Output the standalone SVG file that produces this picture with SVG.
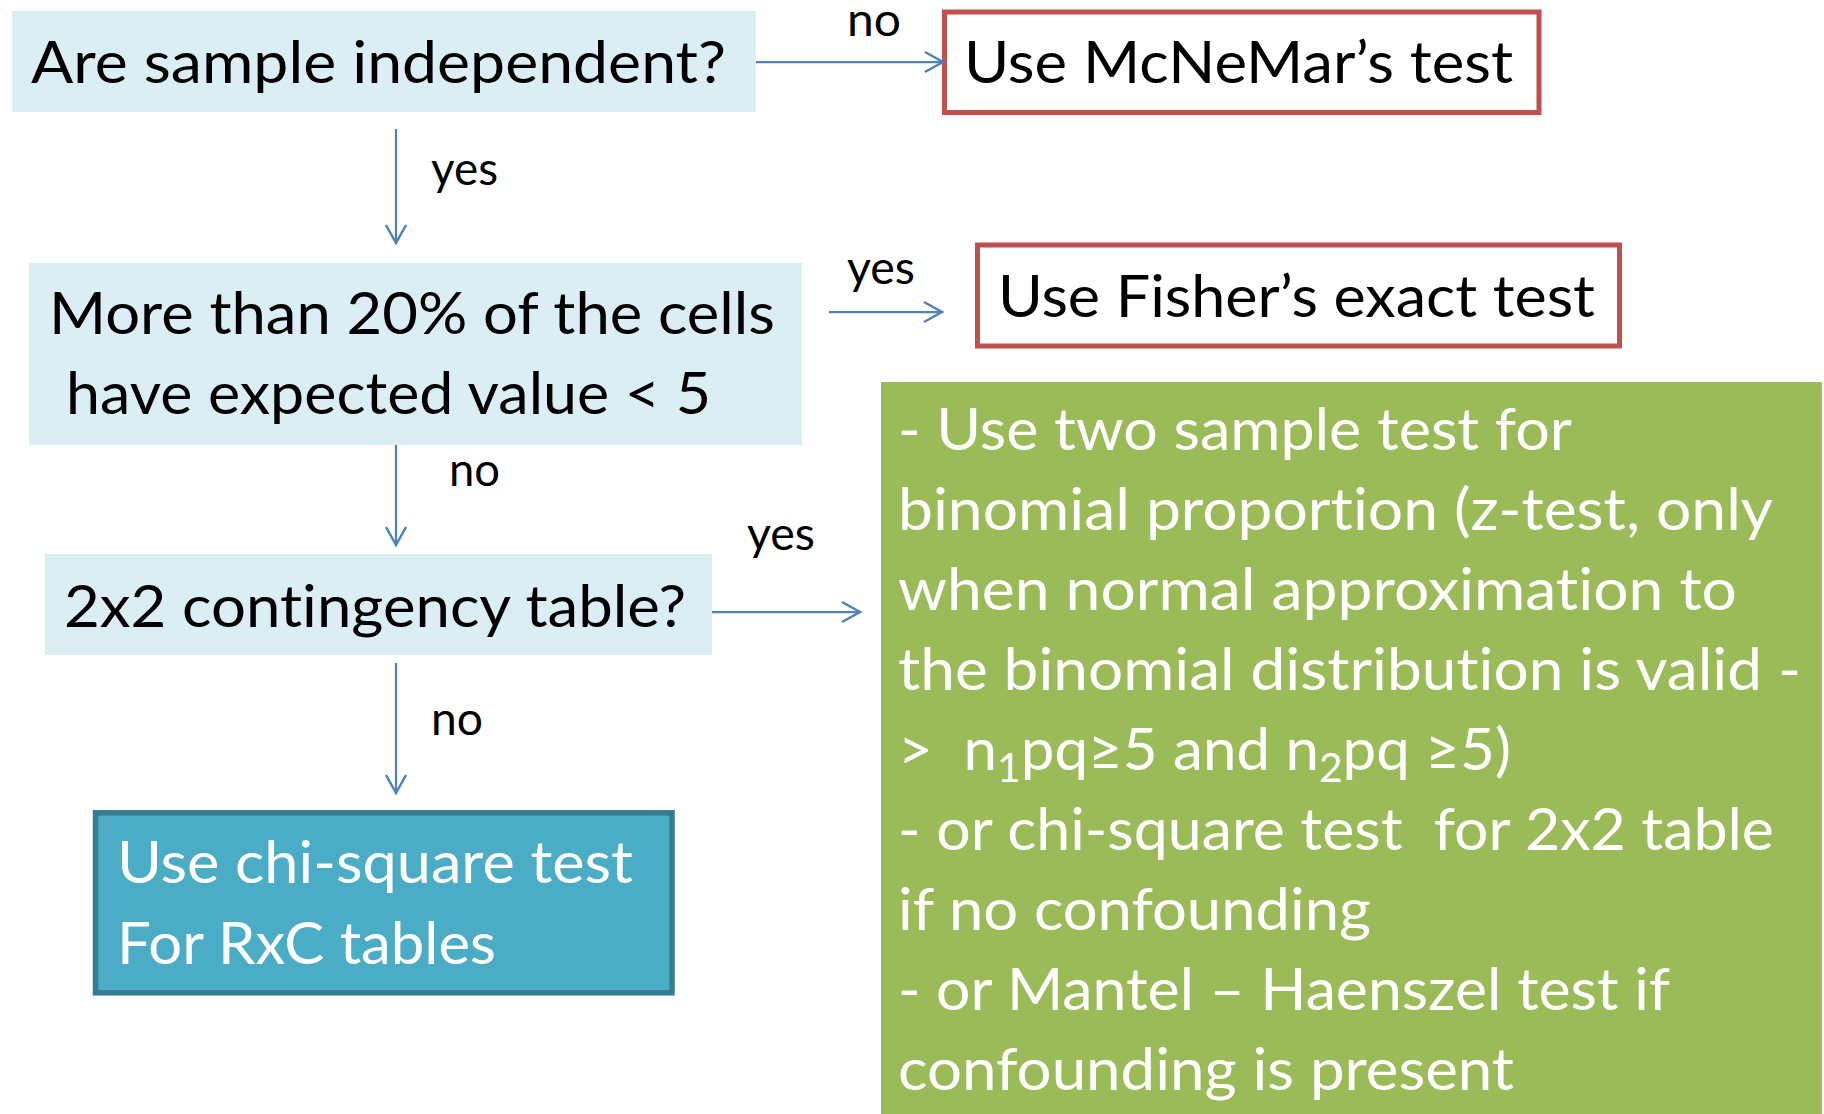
<svg xmlns="http://www.w3.org/2000/svg" width="1824" height="1114" viewBox="0 0 1824 1114">
  <style>
    text { font-family: "Lato", "Liberation Sans", sans-serif; font-variant-ligatures: none; font-feature-settings: "liga" 0, "clig" 0, "dlig" 0; }
    .big { font-size: 59px; }
    .lbl { font-size: 46px; fill: #000000; }
    .dark { fill: #000000; }
    .light { fill: #FFFFFF; }
    .question { fill: #DBEEF4; }
    .result { fill: #FFFFFF; stroke: #C0504D; stroke-width: 5; }
    .chi { fill: #4BACC6; stroke: #357D91; stroke-width: 5.5; }
    .green { fill: #9BBB59; }
    .edge { fill: none; stroke: #4F81BD; stroke-width: 2.25; marker-end: url(#arr); }
  </style>
  <defs>
    <marker id="arr" markerUnits="userSpaceOnUse" viewBox="0 0 24 24" markerWidth="24" markerHeight="24" refX="20" refY="12" orient="auto">
      <path d="M2,2 L20,12 L2,22" fill="none" stroke="#4F81BD" stroke-width="2.5"/>
    </marker>
  </defs>

  <rect width="1824" height="1114" fill="#FFFFFF"/>

  <!-- decision: independence -->
  <g id="q-independent">
    <rect class="question" x="12" y="11" width="744" height="101"/>
    <text class="big dark" x="31" y="83" textLength="695" lengthAdjust="spacingAndGlyphs">Are sample independent?</text>
  </g>

  <!-- outcome: McNemar -->
  <g id="r-mcnemar">
    <rect class="result" x="944.5" y="12" width="594.5" height="100.5"/>
    <text class="big dark" x="964" y="83" textLength="549" lengthAdjust="spacingAndGlyphs">Use McNeMar’s test</text>
  </g>

  <!-- decision: expected cell counts -->
  <g id="q-expected">
    <rect class="question" x="29" y="263" width="773" height="182"/>
    <text class="big dark" x="49" y="334" textLength="726" lengthAdjust="spacingAndGlyphs">More than 20% of the cells</text>
    <text class="big dark" x="66" y="414" textLength="645" lengthAdjust="spacingAndGlyphs">have expected value &lt; 5</text>
  </g>

  <!-- outcome: Fisher -->
  <g id="r-fisher">
    <rect class="result" x="977.5" y="245" width="642" height="101"/>
    <text class="big dark" x="998" y="316.5" textLength="597" lengthAdjust="spacingAndGlyphs">Use Fisher’s exact test</text>
  </g>

  <!-- decision: 2x2 table -->
  <g id="q-2x2">
    <rect class="question" x="45" y="554" width="667" height="101"/>
    <text class="big dark" x="64" y="627" textLength="622" lengthAdjust="spacingAndGlyphs">2x2 contingency table?</text>
  </g>

  <!-- outcome: chi-square RxC -->
  <g id="r-chisquare">
    <rect class="chi" x="95.5" y="812.8" width="576.5" height="180"/>
    <text class="big light" x="117" y="883" textLength="516" lengthAdjust="spacingAndGlyphs">Use chi-square test</text>
    <text class="big light" x="117" y="964" textLength="379" lengthAdjust="spacingAndGlyphs">For RxC tables</text>
  </g>

  <!-- outcome: 2x2 options -->
  <g id="r-2x2-options">
    <rect class="green" x="881" y="382" width="941" height="732"/>
    <text class="big light" x="898" y="450" textLength="674" lengthAdjust="spacingAndGlyphs">- Use two sample test for</text>
    <text class="big light" x="898" y="530" textLength="875" lengthAdjust="spacingAndGlyphs">binomial proportion (z-test, only</text>
    <text class="big light" x="898" y="610" textLength="839" lengthAdjust="spacingAndGlyphs">when normal approximation to</text>
    <text class="big light" x="898" y="690" textLength="903" lengthAdjust="spacingAndGlyphs">the binomial distribution is valid -</text>
    <text class="big light" x="898" y="770" xml:space="preserve" textLength="613" lengthAdjust="spacingAndGlyphs">&gt;  n<tspan font-size="40" dy="12">1</tspan><tspan dy="-12">pq≥5 and n</tspan><tspan font-size="40" dy="12">2</tspan><tspan dy="-12">pq ≥5)</tspan></text>
    <text class="big light" x="898" y="850" xml:space="preserve" textLength="876" lengthAdjust="spacingAndGlyphs">- or chi-square test  for 2x2 table</text>
    <text class="big light" x="898" y="930" textLength="473" lengthAdjust="spacingAndGlyphs">if no confounding</text>
    <text class="big light" x="898" y="1010" textLength="772" lengthAdjust="spacingAndGlyphs">- or Mantel – Haenszel test if</text>
    <text class="big light" x="898" y="1090" textLength="616" lengthAdjust="spacingAndGlyphs">confounding is present</text>
  </g>

  <!-- connectors -->
  <g id="connectors">
    <line class="edge" x1="756" y1="62" x2="943" y2="62"/>
    <line class="edge" x1="396" y1="129" x2="396" y2="243"/>
    <line class="edge" x1="829" y1="312" x2="942" y2="312"/>
    <line class="edge" x1="396" y1="445" x2="396" y2="545"/>
    <line class="edge" x1="712" y1="612" x2="860" y2="612"/>
    <line class="edge" x1="396" y1="663" x2="396" y2="793"/>
    <text class="lbl" x="847" y="36" textLength="54" lengthAdjust="spacingAndGlyphs">no</text>
    <text class="lbl" x="431" y="185" textLength="67" lengthAdjust="spacingAndGlyphs">yes</text>
    <text class="lbl" x="847" y="284" textLength="68" lengthAdjust="spacingAndGlyphs">yes</text>
    <text class="lbl" x="449" y="486" textLength="51" lengthAdjust="spacingAndGlyphs">no</text>
    <text class="lbl" x="747" y="550" textLength="68" lengthAdjust="spacingAndGlyphs">yes</text>
    <text class="lbl" x="431" y="735" textLength="52" lengthAdjust="spacingAndGlyphs">no</text>
  </g>
</svg>
